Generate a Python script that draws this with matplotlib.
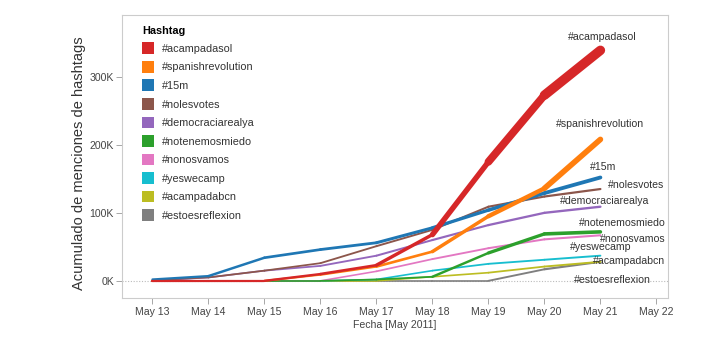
import numpy as np
import matplotlib
matplotlib.use("Agg")
import matplotlib.pyplot as plt
from matplotlib.collections import LineCollection
from matplotlib.patches import Patch

plt.rcParams['font.family'] = ['Liberation Sans', 'DejaVu Sans']

days = [13, 14, 15, 16, 17, 18, 19, 20, 21]
day_ticks = [13, 14, 15, 16, 17, 18, 19, 20, 21, 22]
tick_labels = ["May 13", "May 14", "May 15", "May 16", "May 17", "May 18",
               "May 19", "May 20", "May 21", "May 22"]

hashtags = ["#acampadasol", "#spanishrevolution", "#15m", "#nolesvotes",
            "#democraciarealya", "#notenemosmiedo", "#nonosvamos",
            "#yeswecamp", "#acampadabcn", "#estoesreflexion"]

acampadasol       = [0, 0, 0, 10, 23, 68, 175, 273, 339]
spanishrevolution = [0, 0, 0, 9, 21, 43, 95, 136, 208]
m15               = [2, 7, 34, 46, 56, 78, 104, 129, 152]
nolesvotes        = [1, 5, 15, 26, 51, 75, 109, 124, 135]
democraciarealya  = [0, 5, 15, 22, 37, 60, 82, 100, 109]
notenemosmiedo    = [0, 0, 0, 0, 2, 6, 41, 69, 72]
nonosvamos        = [0, 0, 0, 0, 14, 32, 48, 61, 67]
yeswecamp         = [0, 0, 0, 0, 2, 15, 25, 31, 37]
acampadabcn       = [0, 0, 0, 0, 0, 6, 12, 21, 28]
estoesreflexion   = [0, 0, 0, 0, 0, 0, 0, 17, 28]

series = [acampadasol, spanishrevolution, m15, nolesvotes, democraciarealya,
          notenemosmiedo, nonosvamos, yeswecamp, acampadabcn, estoesreflexion]

colors = ["#d62728", "#ff7f0e", "#1f77b4", "#8c564b", "#9467bd",
          "#2ca02c", "#e377c2", "#17becf", "#bcbd22", "#7f7f7f"]

# line width style: (base width, max width) in points
width_style = [(1.6, 7.2), (1.4, 4.4), (1.6, 2.8), (1.2, 1.6), (1.2, 1.7),
               (1.2, 2.6), (1.1, 1.5), (1.1, 1.4), (1.1, 1.4), (1.2, 1.6)]

# label positions (x in days, y in K)
label_pos = [(20.42, 358), (20.21, 231), (20.81, 168), (21.13, 141),
             (20.28, 118), (20.62, 85), (20.99, 62), (20.46, 50),
             (20.86, 29), (20.53, 1.5)]

fig = plt.figure(figsize=(7.2, 3.4), dpi=100)
ax = fig.add_axes([0.169, 0.124, 0.759, 0.832])

ax.axhline(0, color="#bbbbbb", lw=0.8, ls=(0, (1, 1.5)), zorder=0)

n = len(series)
for i, (vals, c, (w0, w1)) in enumerate(zip(series, colors, width_style)):
    x = np.array(days, dtype=float)
    y = np.array(vals, dtype=float) * 1000
    pts = np.column_stack([x, y])
    segs = np.stack([pts[:-1], pts[1:]], axis=1)
    mid = (y[:-1] + 2 * y[1:]) / 3
    widths = w0 + (w1 - w0) * mid / y.max()
    lc = LineCollection(segs, colors=c, linewidths=widths, capstyle="round",
                        joinstyle="round", zorder=10 + (n - i))
    ax.add_collection(lc)

for name, (lx, ly) in zip(hashtags, label_pos):
    ax.text(lx, ly * 1000, name, fontsize=7.6, color="#333333",
            ha="left", va="center", zorder=30)

ax.set_xlim(12.45, 22.21)
ax.set_ylim(-25000, 391000)
ax.set_xticks(day_ticks)
ax.set_xticklabels(tick_labels)
ax.set_yticks([0, 100000, 200000, 300000])
ax.set_yticklabels(["0K", "100K", "200K", "300K"])
ax.tick_params(axis="both", labelsize=7.6, colors="#999999", labelcolor="#444444",
               length=4, width=0.6)
ax.tick_params(axis="x", pad=2.5)
ax.tick_params(axis="y", pad=1.5)
for s in ax.spines.values():
    s.set_color("#cccccc")
    s.set_linewidth(0.8)

ax.set_xlabel("Fecha [May 2011]", fontsize=7.6, color="#444444", labelpad=2)
ax.set_ylabel("Acumulado de menciones de hashtags", fontsize=10.5, color="#333333")
ax.yaxis.set_label_coords(-0.066, 0.475)

handles = [Patch(facecolor=c, edgecolor="none") for c in colors]
leg = ax.legend(handles, hashtags, title="Hashtag", loc="upper left",
                bbox_to_anchor=(0.025, 0.985), frameon=False, fontsize=7.8,
                handlelength=1.15, handleheight=1.3, labelspacing=0.62,
                handletextpad=0.75, borderaxespad=0.2, title_fontsize=7.8)
leg.get_title().set_fontweight("bold")
leg._legend_box.align = "left"
for t in leg.get_texts():
    t.set_color("#333333")

fig.savefig("out.png", dpi=100)
